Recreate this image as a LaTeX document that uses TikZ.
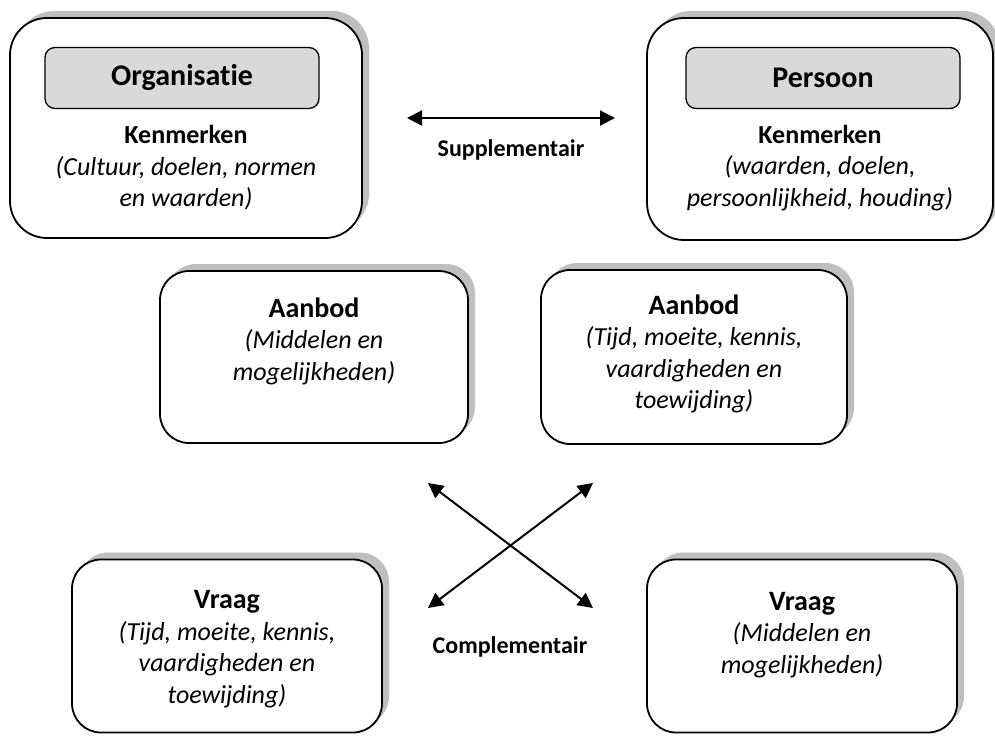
\documentclass[tikz,border=0pt]{standalone}
\usepackage{fontspec}
\setmainfont{Carlito}[Ligatures=NoCommon]
\usetikzlibrary{arrows.meta, shadows}
\definecolor{boxgray}{RGB}{217,217,217}
\definecolor{shadowgray}{RGB}{191,191,191}

\begin{document}
\begin{tikzpicture}[x=1pt, y=-1pt,
  outerbox/.style={draw, line width=1.8pt, fill=white, rounded corners=29pt,
    minimum width=310pt, minimum height=173pt,
    general shadow={fill=shadowgray, shadow xshift=7pt, shadow yshift=7pt}},
  headbox/.style={draw, line width=1.3pt, fill=boxgray, rounded corners=10pt,
    minimum width=274pt, minimum height=61pt, font=\fontsize{30}{35}\selectfont\bfseries},
  boxtext/.style={align=center, font=\fontsize{26}{31.5}\selectfont},
  linklabel/.style={font=\fontsize{24}{28}\selectfont\bfseries},
  link/.style={line width=2pt, {Triangle[length=15pt,width=15pt]}-{Triangle[length=15pt,width=15pt]}}]
  \useasboundingbox (0,0) rectangle (995,736);

  % Organisatie and Persoon
  \node[outerbox, rounded corners=37pt, minimum width=352pt, minimum height=220pt] (org) at (186,128) {};
  \node[headbox] (orghead) at (182,78) {Organisatie};
  \node[boxtext] (orgtext) at (186,168) {\textbf{Kenmerken}\\ \textit{(Cultuur, doelen, normen}\\ \textit{en waarden)}};
  \node[outerbox, rounded corners=37pt, minimum width=346pt, minimum height=222pt] (pers) at (820,129) {};
  \node[headbox] (pershead) at (823,78) {Persoon};
  \node[boxtext] (perstext) at (820,168) {\textbf{Kenmerken}\\ \textit{(waarden, doelen,}\\ \textit{persoonlijkheid, houding)}};

  % supplementary fit
  \coordinate (suppL) at (407,118);
  \coordinate (suppR) at (615,118);
  \draw[link] (suppL) -- (suppR);
  \node[linklabel] (supp) at (511,150) {Supplementair};

  % Aanbod
  \node[outerbox, minimum width=308pt, minimum height=172pt] (orgoffer) at (314,357) {};
  \node[boxtext] (orgoffertext) at (314,341) {{\fontsize{28}{31.5}\selectfont\bfseries Aanbod}\\ \textit{(Middelen en}\\ \textit{mogelijkheden)}};
  \node[outerbox, minimum width=306pt, minimum height=174pt] (persoffer) at (694,357) {};
  \node[boxtext] (persoffertext) at (694,354) {{\fontsize{28}{31.5}\selectfont\bfseries Aanbod}\\ \textit{(Tijd, moeite, kennis,}\\ \textit{vaardigheden en}\\ \textit{toewijding)}};

  % complementary fit
  \coordinate (compNW) at (428,483);
  \coordinate (compSE) at (593,608);
  \coordinate (compNE) at (593,483);
  \coordinate (compSW) at (428,608);
  \draw[link] (compNW) -- (compSE);
  \draw[link] (compNE) -- (compSW);
  \node[linklabel] (comp) at (510,647) {Complementair};

  % Vraag
  \node[outerbox] (orgdemand) at (227,646) {};
  \node[boxtext] (orgdemandtext) at (227,649) {{\fontsize{28}{31.5}\selectfont\bfseries Vraag}\\ \textit{(Tijd, moeite, kennis,}\\ \textit{vaardigheden en}\\ \textit{toewijding)}};
  \node[outerbox] (persdemand) at (802,646) {};
  \node[boxtext] (persdemandtext) at (802,635) {{\fontsize{28}{31.5}\selectfont\bfseries Vraag}\\ \textit{(Middelen en}\\ \textit{mogelijkheden)}};
\end{tikzpicture}
\end{document}
